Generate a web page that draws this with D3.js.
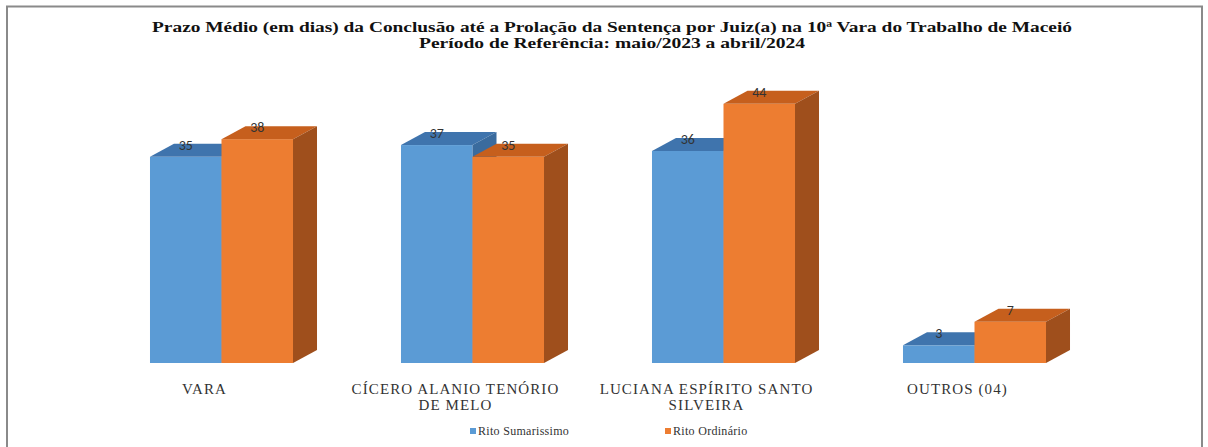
<!DOCTYPE html>
<html>
<head>
<meta charset="utf-8">
<script src="https://cdn.jsdelivr.net/npm/d3@7"></script>
<style>
  body { margin: 0; background: #fff; }
  svg { display: block; }
</style>
</head>
<body>
<script>
// data
const categories = ["VARA", "CÍCERO ALANIO TENÓRIO DE MELO", "LUCIANA ESPÍRITO SANTO SILVEIRA", "OUTROS (04)"];
const categoryLines = [["VARA"], ["CÍCERO ALANIO TENÓRIO", "DE MELO"], ["LUCIANA ESPÍRITO SANTO", "SILVEIRA"], ["OUTROS (04)"]];
const seriesNames = ["Rito Sumarissimo", "Rito Ordinário"];
const sumarissimo = [35, 37, 36, 3];
const ordinario = [38, 35, 44, 7];
const titleLines = [
  "Prazo Médio (em dias) da Conclusão até a Prolação da Sentença por Juiz(a) na 10ª Vara do Trabalho de Maceió",
  "Período de Referência: maio/2023 a abril/2024"
];

const width = 1208, height = 447;
const serif = '"Liberation Serif", "Times New Roman", serif';
const sans = '"Carlito", "Liberation Sans", sans-serif';
const colors = {
  "Rito Sumarissimo": { front: "#5b9bd5", top: "#3f74ad", side: "#3a6b9e" },
  "Rito Ordinário": { front: "#ed7d31", top: "#c65f1d", side: "#9f4f1c" }
};
const depthX = 24, depthY = -13;

const svg = d3.select("body").append("svg")
  .attr("width", width)
  .attr("height", height);

// frame
svg.append("path")
  .attr("d", "M7,460 L7,6.5 L1202,6.5 L1202,460")
  .attr("fill", "none")
  .attr("stroke", "#8a8a8a")
  .attr("stroke-width", 2);

// title
svg.append("g").selectAll("text")
  .data(titleLines)
  .enter().append("text")
  .style("font-family", serif)
  .attr("x", 612)
  .attr("y", (d, i) => 32 + i * 16)
  .attr("text-anchor", "middle")
  .attr("font-weight", "bold")
  .attr("font-size", 15)
  .attr("fill", "#111")
  .attr("textLength", (d, i) => i === 0 ? 920 : 386)
  .attr("lengthAdjust", "spacingAndGlyphs")
  .text(d => d);

// scales
const x = d3.scaleBand().domain(categories).range([96, 1100]).paddingInner(0);
const xs = d3.scaleBand().domain(seriesNames).range([0, x.bandwidth()])
  .paddingInner(0).paddingOuter(0.755);
const y = d3.scaleLinear().domain([0, 50]).range([363, 68.5]);

const rows = categories.map((c, i) => ({
  cat: c,
  values: [
    { series: seriesNames[0], value: sumarissimo[i] },
    { series: seriesNames[1], value: ordinario[i] }
  ]
}));

const groups = svg.append("g").selectAll("g")
  .data(rows)
  .enter().append("g")
  .attr("transform", d => `translate(${x(d.cat)},0)`);

const bars = groups.selectAll("g")
  .data(d => d.values)
  .enter().append("g");

const bw = xs.bandwidth();

// front face
bars.append("rect")
  .attr("x", d => xs(d.series))
  .attr("y", d => y(d.value))
  .attr("width", bw)
  .attr("height", d => y(0) - y(d.value))
  .attr("fill", d => colors[d.series].front);

// top face
bars.append("path")
  .attr("d", d => {
    const x0 = xs(d.series), y0 = y(d.value);
    return `M${x0},${y0} L${x0 + depthX},${y0 + depthY} L${x0 + bw + depthX},${y0 + depthY} L${x0 + bw},${y0} Z`;
  })
  .attr("fill", d => colors[d.series].top);

// side face
bars.append("path")
  .attr("d", d => {
    const x1 = xs(d.series) + bw, y0 = y(d.value), yb = y(0);
    return `M${x1},${y0} L${x1 + depthX},${y0 + depthY} L${x1 + depthX},${yb + depthY} L${x1},${yb} Z`;
  })
  .attr("fill", d => colors[d.series].side);

// value labels
bars.append("text")
  .style("font-family", sans)
  .attr("x", d => xs(d.series) + bw / 2)
  .attr("y", d => y(d.value) - 7)
  .attr("text-anchor", "middle")
  .attr("font-size", 14)
  .attr("fill", "#333")
  .text(d => d.value);

// category labels
const catLabels = svg.append("g").selectAll("text")
  .data(categories)
  .enter().append("text")
  .style("font-family", serif)
  .attr("x", d => x(d) + x.bandwidth() / 2 - 17)
  .attr("y", 394)
  .attr("text-anchor", "middle")
  .attr("font-size", 15)
  .attr("letter-spacing", 1.1)
  .attr("fill", "#333");

catLabels.selectAll("tspan")
  .data((d, i) => categoryLines[i])
  .enter().append("tspan")
  .attr("x", function() { return d3.select(this.parentNode).attr("x"); })
  .attr("dy", (d, i) => i === 0 ? 0 : 16)
  .text(d => d);

// legend
const legend = svg.append("g").selectAll("g")
  .data(seriesNames)
  .enter().append("g")
  .attr("transform", (d, i) => `translate(${470 + i * 195},432)`);

legend.append("rect")
  .attr("x", 0)
  .attr("y", -4)
  .attr("width", 6)
  .attr("height", 6)
  .attr("fill", d => colors[d].front);

legend.append("text")
  .style("font-family", serif)
  .attr("x", 8)
  .attr("y", 3)
  .attr("font-size", 12)
  .attr("letter-spacing", 0.3)
  .attr("fill", "#333")
  .text(d => d);
</script>
</body>
</html>
